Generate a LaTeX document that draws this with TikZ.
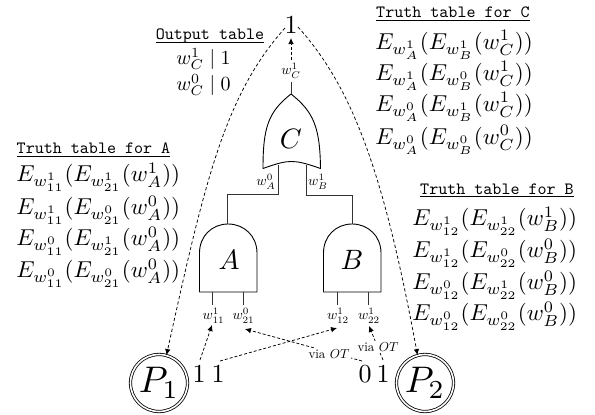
\documentclass[tikz,border=0pt]{standalone}
\usepackage{amsmath}
\usetikzlibrary{arrows.meta,positioning}
\newcommand{\ttl}[1]{\underline{\smash{\texttt{#1}}}}
\tikzset{
  x=1pt,y=-1pt,
  gate/.style={draw=black,line width=0.9pt,fill=white,line join=round},
  wire/.style={draw=black!80,line width=0.9pt},
  dashconn/.style={densely dashed,line width=0.75pt,-{Latex[length=6pt,width=5.5pt]},shorten <=0pt},
  dashcurve/.style={dash pattern=on 3.2pt off 2.4pt,line width=0.75pt,-{Latex[length=6pt,width=5.5pt]}},
  tabletitle/.style={inner sep=0pt,scale=1.72,anchor=base},
  tablerow/.style={inner sep=0pt,scale=2.3,anchor=west},
  outrow/.style={inner sep=0pt,scale=2.0},
  wirelabel/.style={inner sep=0pt,scale=1.4},
  gatelabel/.style={inner sep=0pt,scale=2.8},
  bit/.style={inner sep=0pt,scale=2.6},
  party/.style={circle,double,draw=black,line width=0.8pt,double distance=1.6pt,minimum size=57pt,inner sep=0pt},
  otlabel/.style={inner sep=1pt,scale=1.3,fill=white}
}
\begin{document}
\begin{tikzpicture}
\useasboundingbox (0,0) rectangle (595,415);
% gates
\draw[gate] (199.5,292) -- (257,292) -- (257,253) .. controls (257,236) and (244,224) .. (228.2,224) .. controls (212,224) and (199.5,236) .. (199.5,253) -- cycle;
\draw[gate] (323.5,292) -- (381,292) -- (381,253) .. controls (381,236) and (368,224) .. (352.2,224) .. controls (336,224) and (323.5,236) .. (323.5,253) -- cycle;
\draw[gate] (263,168.5) .. controls (263,128) and (268,112) .. (291,94) .. controls (314,112) and (320,128) .. (320.5,168.5) .. controls (305,163) and (298,161.5) .. (291.5,161.5) .. controls (285,161.5) and (278,163) .. (263,168.5) -- cycle;
\node[gatelabel] (A) at (229,260) {$A$};
\node[gatelabel] (B) at (352,260) {$B$};
\node[gatelabel] (C) at (291,139) {$C$};
% wires
\coordinate (cl) at (278,164.5);
\coordinate (cr) at (306,164.5);
\coordinate (atop) at (227.5,224);
\coordinate (btop) at (352,224);
\coordinate (ctip) at (291,94);
\coordinate (cout) at (291,82);
\draw[wire] (cl) -- (278,194.5) -- (227.5,194.5) -- (atop);
\draw[wire] (cr) -- (306,195) -- (352,195) -- (btop);
\draw[wire] (ctip) -- (cout);
\coordinate (a1) at (212,292);
\coordinate (a2) at (243,292);
\coordinate (b1) at (337,292);
\coordinate (b2) at (368,292);
\node[wirelabel] (wa1) at (213.5,316) {$w^1_{11}$};
\node[wirelabel] (wa2) at (243.5,316) {$w^0_{21}$};
\node[wirelabel] (wb1) at (338,316) {$w^1_{12}$};
\node[wirelabel] (wb2) at (369,316) {$w^1_{22}$};
\draw[wire] (a1) -- (212,305);
\draw[wire] (a2) -- (243,305);
\draw[wire] (b1) -- (337,305);
\draw[wire] (b2) -- (368,305);
\node[wirelabel] (wA) at (266,181.5) {$w^0_A$};
\node[wirelabel] (wB) at (318,181.5) {$w^1_B$};
\node[wirelabel] (wC) at (291,71) {$w^1_C$};
% bits
\node[bit] (top) at (291,25) {$1$};
\node[bit] (i1) at (199,374.5) {$1$};
\node[bit] (i2) at (218,374.5) {$1$};
\node[bit] (i3) at (365,374.5) {$0$};
\node[bit] (i4) at (383,374.5) {$1$};
% parties
\node[party] (P1) at (159,383) {\scalebox{3.7}{$P_1$}};
\node[party] (P2) at (425,383) {\scalebox{3.7}{$P_2$}};
% dashed connectors
\coordinate (s0) at (291,60);
\coordinate (s1) at (200,360);
\coordinate (s2) at (220,361);
\coordinate (s3) at (362,361);
\coordinate (s4) at (383,360);
\draw[dashconn] (s0) -- (291,38);
\draw[dashconn] (s1) -- (212,325);
\draw[dashconn] (s2) -- (337,328);
\draw[dashconn] (s3) -- (245,329);
\draw[dashconn] (s4) -- (369,326);
\node[otlabel] (ot1) at (329,354) {via $OT$};
\node[otlabel] (ot2) at (378,347) {via $OT$};
\coordinate (t1) at (285,28);
\coordinate (t2) at (298,27);
\draw[dashcurve] (t1) .. controls (225,95) and (205,180) .. (P1.75);
\draw[dashcurve] (t2) .. controls (355,90) and (385,180) .. (P2.105);
% tables
\node[tabletitle] (tout) at (210,39.5) {\ttl{Output table}};
\node[outrow] (o1) at (203.5,59) {$w^1_C \mid 1$};
\node[outrow] (o0) at (203.5,85) {$w^0_C \mid 0$};
\node[tabletitle] (tc) at (453,17.5) {\ttl{Truth table for C}};
\node[tablerow] (c1) at (375,45) {$E_{w^1_A}(E_{w^1_B}(w^1_C))$};
\node[tablerow] (c2) at (375,76) {$E_{w^1_A}(E_{w^0_B}(w^1_C))$};
\node[tablerow] (c3) at (375,107) {$E_{w^0_A}(E_{w^1_B}(w^1_C))$};
\node[tablerow] (c4) at (375,140) {$E_{w^0_A}(E_{w^0_B}(w^0_C))$};
\node[tabletitle] (ta) at (93.5,153.5) {\ttl{Truth table for A}};
\node[tablerow] (a1t) at (16,177) {$E_{w^1_{11}}(E_{w^1_{21}}(w^1_A))$};
\node[tablerow] (a2t) at (16,210) {$E_{w^1_{11}}(E_{w^0_{21}}(w^0_A))$};
\node[tablerow] (a3t) at (16,241) {$E_{w^0_{11}}(E_{w^1_{21}}(w^0_A))$};
\node[tablerow] (a4t) at (16,273) {$E_{w^0_{11}}(E_{w^0_{21}}(w^0_A))$};
\node[tabletitle] (tb) at (497,194) {\ttl{Truth table for B}};
\node[tablerow] (b1t) at (412,221) {$E_{w^1_{12}}(E_{w^1_{22}}(w^1_B))$};
\node[tablerow] (b2t) at (412,253) {$E_{w^1_{12}}(E_{w^0_{22}}(w^0_B))$};
\node[tablerow] (b3t) at (412,285) {$E_{w^0_{12}}(E_{w^1_{22}}(w^0_B))$};
\node[tablerow] (b4t) at (412,316) {$E_{w^0_{12}}(E_{w^0_{22}}(w^0_B))$};
\end{tikzpicture}
\end{document}
